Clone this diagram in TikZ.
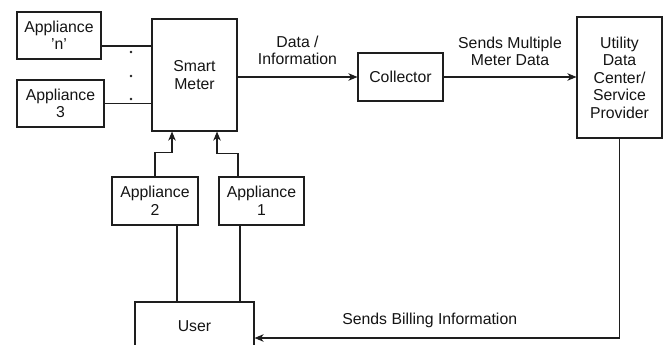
\documentclass[tikz,border=0pt]{standalone}
\usepackage{fontspec}
\setmainfont{Liberation Sans}
\usetikzlibrary{arrows.meta, positioning, calc}
\definecolor{lnblack}{HTML}{1E1E1E}
\definecolor{txblack}{HTML}{141414}

\begin{document}
\begin{tikzpicture}[
  x=1pt, y=-1pt,
  box/.style={rectangle, draw=lnblack, line width=1.1pt, inner sep=0pt,
    minimum width=85pt, minimum height=48pt, align=center,
    font=\fontsize{15.8}{17.5}\selectfont, text=txblack},
  >={Stealth[length=9pt, width=7.5pt, inset=2.5pt]},
  arr/.style={draw=lnblack, line width=1.1pt, ->},
  lnk/.style={draw=lnblack, line width=1.1pt},
  lbl/.style={font=\fontsize{15.8}{17.5}\selectfont, text=txblack, align=center},
]

% page size
\useasboundingbox (0,0) rectangle (665,345);

\node[box, minimum width=84pt, minimum height=47pt] (appn) at (59,35.5) {Appliance\\'n'};
\node[box, minimum width=87pt, minimum height=47pt] (app3) at (60.5,103.5) {Appliance\\3};
\node[box, minimum height=112pt] (meter) at (194.5,75) {Smart\\Meter};
\node[box, minimum width=86pt] (app2) at (155,201) {Appliance\\2};
\node[box] (app1) at (261.5,201) {Appliance\\1};
\node[box, minimum width=119pt] (user) at (194.5,326) {User};
\node[box] (coll) at (400.5,77) {Collector};
\node[box, minimum height=121pt] (util) at (619.5,77.5) {Utility\\Data\\Center/\\Service\\Provider};

% appliances on the left
\draw[lnk] ([yshift=-10.5pt]appn.east) -- ([yshift=-10.5pt]appn.east -| meter.west);
\draw[lnk] (app3.east) -- (app3.east -| meter.west);
\foreach \yy in {52,76,99}
  \fill[lnblack] (131,\yy) circle (1.3pt);

% appliances below
\coordinate (m2) at ([xshift=-22.5pt]meter.south);
\coordinate (m1) at ([xshift=22.5pt]meter.south);
\draw[arr] (app2.north) -- ++(0,-24) -| (m2);
\draw[arr] ([xshift=-23.5pt]app1.north) -- ++(0,-23) -| (m1);
\draw[lnk] ([xshift=22pt]app2.south) -- ([xshift=22pt]app2.south |- user.north);
\draw[lnk] ([xshift=-21.5pt]app1.south) -- ([xshift=-21.5pt]app1.south |- user.north);

\draw[arr] (meter.east |- coll.west) -- node[lbl, above=8pt, midway] {Data /\\Information} (coll.west);
\draw[arr] (coll.east) -- node[lbl, above=7pt, midway] {Sends Multiple\\Meter Data} (coll.east -| util.west);
\draw[arr] (util.south) |- node[lbl, above=6pt, pos=0.76] {Sends Billing Information} ([yshift=-12pt]user.east);
\end{tikzpicture}
\end{document}
